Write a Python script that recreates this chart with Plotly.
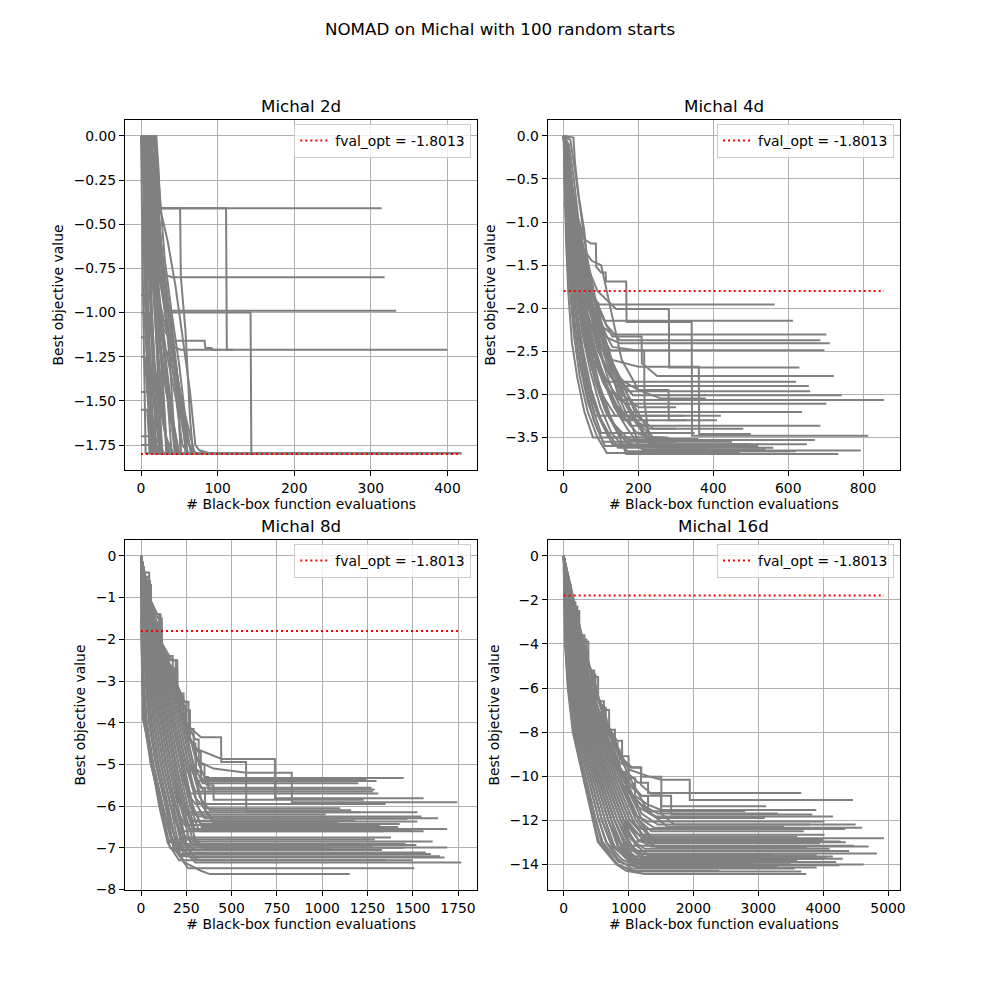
import plotly.graph_objects as go

# NOMAD best-so-far traces on the Michalewicz function
FVAL_OPT = -1.8013
SUPTITLE = "NOMAD on Michal with 100 random starts"
PANEL_TITLES = ["Michal 2d", "Michal 4d", "Michal 8d", "Michal 16d"]
X_LABEL = "# Black-box function evaluations"
Y_LABEL = "Best objective value"

X_TICKS_2D = [0, 100, 200, 300, 400]
Y_TICKS_2D = [0.0, -0.25, -0.5, -0.75, -1.0, -1.25, -1.5, -1.75]
X_TICKS_4D = [0, 200, 400, 600, 800]
Y_TICKS_4D = [0.0, -0.5, -1.0, -1.5, -2.0, -2.5, -3.0, -3.5]
X_TICKS_8D = [0, 250, 500, 750, 1000, 1250, 1500, 1750]
Y_TICKS_8D = [0, -1, -2, -3, -4, -5, -6, -7, -8]
X_TICKS_16D = [0, 1000, 2000, 3000, 4000, 5000]
Y_TICKS_16D = [0, -2, -4, -6, -8, -10, -12, -14]

# each run: (evaluation, best value so far), joined by straight segments
RUNS_2D = [
    [(0, 0), (7, 0), (12, -0.22), (18, -0.38), (24, -0.41), (314, -0.41)],
    [(0, 0), (6, 0), (13, -0.3), (22, -0.41), (111, -0.41), (112, -1.21), (400, -1.21)],
    [(0, 0), (9, 0), (16, -0.33), (27, -0.41), (51, -0.41), (52, -0.8), (58, -1.1), (64, -1.6), (68, -1.797), (230, -1.797)],
    [(0, 0), (5, 0), (14, -0.45), (22, -0.68), (28, -0.78), (40, -0.8), (318, -0.8)],
    [(0, 0), (8, 0), (17, -0.5), (26, -0.85), (34, -0.99), (333, -0.99)],
    [(0, 0), (4, 0), (15, -0.6), (30, -0.94), (40, -1.0), (143, -1.0), (144, -1.797), (418, -1.797)],
    [(0, 0), (6, 0), (14, -0.55), (25, -0.95), (36, -1.16), (83, -1.16), (84, -1.2), (92, -1.2), (93, -1.21), (120, -1.21)],
    [(0, 0), (5, 0), (12, -0.5), (20, -0.9), (30, -1.1), (45, -1.2), (52, -1.21), (105, -1.21)],
    [(0, 0), (2, 0), (4, -0.3), (7, -0.9), (10, -1.4), (13, -1.797), (120, -1.797)],
    [(0, 0), (3, 0), (6, -0.5), (9, -1.1), (12, -1.6), (16, -1.797), (175, -1.797)],
    [(0, 0), (4, 0), (8, -0.2), (11, -0.7), (15, -1.3), (20, -1.797), (210, -1.797)],
    [(0, 0), (5, -0.05), (9, -0.4), (14, -1.0), (19, -1.5), (24, -1.797), (260, -1.797)],
    [(0, 0), (6, 0), (10, -0.25), (16, -0.8), (22, -1.35), (28, -1.797), (95, -1.797)],
    [(0, 0), (8, 0), (12, -0.15), (18, -0.6), (26, -1.2), (33, -1.797), (305, -1.797)],
    [(0, 0), (10, 0), (15, -0.3), (21, -0.75), (28, -1.1), (36, -1.6), (40, -1.797), (190, -1.797)],
    [(0, 0), (12, 0), (17, -0.2), (23, -0.65), (30, -0.9), (38, -1.3), (45, -1.797), (340, -1.797)],
    [(0, 0), (15, 0), (19, -0.1), (24, -0.5), (31, -0.85), (40, -1.05), (48, -1.5), (52, -1.797), (280, -1.797)],
    [(0, 0), (17, 0), (21, -0.3), (27, -0.72), (35, -0.98), (44, -1.25), (55, -1.6), (58, -1.797), (150, -1.797)],
    [(0, 0), (18, 0), (22, -0.4), (30, -0.8), (38, -1.1), (47, -1.35), (60, -1.7), (66, -1.797), (372, -1.797)],
    [(0, 0), (19, -0.05), (24, -0.55), (33, -0.9), (42, -1.2), (52, -1.5), (63, -1.75), (72, -1.797), (230, -1.797)],
    [(0, 0), (3, -0.05), (5, -0.8), (8, -1.3), (11, -1.797), (85, -1.797)],
    [(0, -1.55), (8, -1.55), (12, -1.797), (140, -1.797)],
    [(0, -1.14), (6, -1.14), (14, -1.6), (18, -1.797), (200, -1.797)],
    [(0, -1.7), (14, -1.7), (16, -1.797), (110, -1.797)],
    [(0, -1.25), (5, -1.25), (9, -1.5), (22, -1.797), (250, -1.797)],
    [(0, -0.6), (3, -0.6), (8, -1.0), (15, -1.45), (25, -1.797), (160, -1.797)],
    [(0, -0.2), (4, -0.2), (9, -0.7), (16, -1.25), (30, -1.65), (38, -1.797), (290, -1.797)],
    [(0, 0), (7, 0), (11, -0.45), (17, -0.95), (24, -1.4), (32, -1.7), (42, -1.797), (320, -1.797)],
    [(0, 0), (9, 0), (14, -0.6), (20, -1.0), (29, -1.3), (39, -1.55), (50, -1.797), (180, -1.797)],
    [(0, 0), (11, 0), (16, -0.5), (23, -0.9), (32, -1.2), (46, -1.5), (54, -1.75), (62, -1.797), (390, -1.797)],
    [(0, 0), (13, -0.02), (18, -0.35), (26, -0.78), (36, -1.1), (46, -1.4), (57, -1.7), (68, -1.797), (410, -1.797)],
    [(0, 0), (16, 0), (20, -0.25), (26, -0.6), (34, -0.88), (43, -1.18), (50, -1.45), (61, -1.797), (260, -1.797)],
    [(0, 0), (14, 0), (18, -0.45), (25, -0.82), (33, -1.05), (44, -1.3), (56, -1.55), (70, -1.797), (418, -1.797)],
    [(0, 0), (2, -0.1), (5, -0.6), (10, -1.0), (20, -1.4), (27, -1.797), (135, -1.797)],
    [(0, 0), (4, -0.05), (7, -0.35), (13, -0.75), (24, -1.2), (35, -1.5), (46, -1.797), (240, -1.797)],
    [(0, -0.9), (4, -0.9), (12, -1.3), (28, -1.6), (36, -1.797), (350, -1.797)],
    [(0, 0), (1, -0.4), (3, -1.0), (6, -1.797), (70, -1.797)],
    [(0, 0), (20, 0), (23, -0.2), (25, -0.41), (35, -0.6), (45, -0.85), (53, -1.1), (64, -1.45), (71, -1.75), (76, -1.78), (90, -1.797), (300, -1.797)],
    [(0, -1.75), (20, -1.75), (24, -1.797), (200, -1.797)],
    [(0, -1.45), (10, -1.45), (18, -1.7), (30, -1.797), (160, -1.797)],
    [(0, 0), (6, -0.1), (11, -0.6), (19, -1.0), (30, -1.2), (46, -1.3), (52, -1.797), (100, -1.797)],
    [(0, 0), (10, -0.1), (15, -0.7), (22, -1.1), (33, -1.45), (42, -1.62), (49, -1.797), (330, -1.797)],
    [(0, 0), (3, 0), (8, -0.8), (14, -1.5), (18, -1.797), (125, -1.797)],
    [(0, 0), (8, 0), (13, -0.5), (20, -1.1), (30, -1.6), (35, -1.797), (270, -1.797)],
    [(0, 0), (12, 0), (18, -0.6), (26, -1.1), (36, -1.45), (44, -1.797), (310, -1.797)],
    [(0, 0), (5, -0.1), (10, -0.7), (18, -1.3), (26, -1.797), (145, -1.797)],
    [(0, 0), (16, -0.1), (22, -0.55), (30, -0.95), (40, -1.3), (52, -1.6), (60, -1.797), (360, -1.797)],
    [(0, 0), (10, -0.05), (15, -0.4), (21, -0.9), (28, -1.35), (34, -1.797), (220, -1.797)],
    [(0, 0), (19, 0), (24, -0.3), (31, -0.7), (40, -1.0), (50, -1.3), (58, -1.6), (65, -1.797), (380, -1.797)],
    [(0, -0.4), (2, -0.4), (6, -0.9), (11, -1.4), (15, -1.797), (105, -1.797)],
    [(0, 0), (7, -0.02), (11, -0.3), (17, -0.7), (25, -1.0), (33, -1.3), (41, -1.6), (47, -1.797), (290, -1.797)],
    [(0, -1.0), (4, -1.0), (10, -1.4), (16, -1.797), (175, -1.797)],
]

RUNS_4D = [
    [(0, 0), (6, 0), (14, -0.35), (25, -0.7), (38, -0.95), (55, -1.2), (73, -1.25), (86, -1.25), (87, -1.52), (100, -1.585), (112, -1.585), (113, -1.69), (167, -1.69), (168, -2.16), (342, -2.16), (343, -3.48), (814, -3.48)],
    [(0, 0), (4, -0.1), (12, -0.5), (24, -0.85), (40, -1.15), (62, -1.5), (90, -1.8), (120, -1.92), (140, -2.01), (281, -2.01), (282, -2.69), (630, -2.69)],
    [(0, 0), (8, -0.2), (18, -0.6), (30, -1.0), (48, -1.4), (70, -1.75), (95, -2.0), (110, -2.147), (613, -2.147)],
    [(0, 0), (3, -0.15), (10, -0.55), (22, -0.95), (35, -1.3), (55, -1.62), (75, -1.85), (95, -1.957), (564, -1.957)],
    [(0, 0), (5, -0.3), (15, -0.75), (28, -1.1), (45, -1.5), (70, -1.9), (100, -2.2), (130, -2.306), (702, -2.306)],
    [(0, 0), (9, -0.25), (20, -0.65), (35, -1.05), (55, -1.45), (80, -1.85), (115, -2.2), (150, -2.372), (686, -2.372)],
    [(0, 0), (7, -0.4), (16, -0.9), (30, -1.35), (50, -1.8), (75, -2.1), (110, -2.33), (150, -2.407), (711, -2.407)],
    [(0, 0), (6, -0.2), (14, -0.6), (26, -1.0), (42, -1.45), (65, -1.9), (90, -2.25), (125, -2.488), (697, -2.488)],
    [(0, 0), (10, -0.3), (22, -0.8), (38, -1.2), (60, -1.6), (90, -2.0), (130, -2.33), (208, -2.33), (209, -2.64), (250, -2.787), (722, -2.787)],
    [(0, 0), (4, -0.35), (11, -0.8), (22, -1.3), (38, -1.75), (60, -2.2), (85, -2.55), (115, -2.853), (621, -2.853)],
    [(0, 0), (8, -0.3), (18, -0.75), (32, -1.2), (52, -1.7), (78, -2.15), (105, -2.6), (140, -2.903), (655, -2.903)],
    [(0, 0), (5, -0.2), (12, -0.6), (24, -1.1), (42, -1.6), (64, -2.05), (92, -2.5), (125, -2.8), (170, -2.965), (659, -2.965)],
    [(0, 0), (12, -0.15), (24, -0.6), (38, -1.05), (56, -1.5), (80, -2.0), (108, -2.45), (145, -2.8), (185, -3.01), (743, -3.01)],
    [(0, 0), (3, -0.25), (9, -0.7), (20, -1.2), (35, -1.7), (55, -2.2), (80, -2.6), (110, -2.9), (150, -3.066), (856, -3.066)],
    [(0, 0), (7, -0.35), (17, -0.85), (30, -1.3), (48, -1.8), (70, -2.3), (98, -2.7), (130, -2.95), (165, -3.11), (702, -3.11)],
    [(0, 0), (6, -0.15), (15, -0.55), (28, -1.0), (45, -1.5), (68, -2.0), (95, -2.5), (125, -2.9), (158, -3.205), (637, -3.205)],
    [(0, 0), (9, -0.3), (20, -0.8), (34, -1.3), (52, -1.8), (74, -2.3), (100, -2.75), (135, -3.1), (178, -3.364), (686, -3.364)],
    [(0, 0), (4, -0.2), (10, -0.65), (20, -1.15), (34, -1.65), (52, -2.15), (74, -2.65), (100, -3.05), (135, -3.35), (175, -3.53), (671, -3.53)],
    [(0, 0), (8, -0.4), (18, -0.95), (31, -1.45), (48, -1.95), (70, -2.45), (96, -2.9), (128, -3.3), (165, -3.55), (220, -3.651), (794, -3.651)],
    [(0, 0), (5, -0.3), (13, -0.8), (25, -1.3), (40, -1.85), (60, -2.35), (85, -2.8), (115, -3.2), (150, -3.5), (167, -3.694), (734, -3.694)],
    [(0, 0), (3, -0.4), (8, -1.0), (16, -1.6), (28, -2.2), (45, -2.7), (65, -3.1), (90, -3.4), (110, -3.6), (420, -3.6)],
    [(0, 0), (6, -0.5), (14, -1.1), (25, -1.7), (40, -2.3), (60, -2.8), (80, -3.2), (100, -3.45), (350, -3.45)],
    [(0, 0), (10, -0.2), (22, -0.6), (35, -1.0), (50, -1.3), (75, -1.45), (100, -1.5), (125, -2.0), (155, -2.6), (200, -2.95), (260, -3.05), (380, -3.05)],
    [(0, 0), (14, -0.1), (27, -0.5), (40, -1.0), (58, -1.4), (80, -1.9), (105, -2.3), (135, -2.7), (170, -3.0), (210, -3.3), (250, -3.6), (520, -3.6)],
    [(0, 0), (2, -0.6), (6, -1.2), (12, -1.8), (22, -2.4), (36, -2.8), (55, -3.2), (78, -3.5), (260, -3.5)],
    [(0, 0), (11, -0.3), (24, -0.8), (40, -1.25), (60, -1.7), (85, -2.1), (115, -2.5), (150, -2.8), (195, -3.25), (240, -3.4), (480, -3.4)],
    [(0, 0), (7, -0.1), (16, -0.45), (28, -0.9), (44, -1.35), (66, -1.8), (92, -2.25), (120, -2.6), (155, -3.0), (200, -3.15), (300, -3.15)],
    [(0, -0.8), (5, -0.8), (12, -1.4), (25, -2.0), (40, -2.5), (58, -2.9), (80, -3.3), (105, -3.55), (300, -3.55)],
    [(0, 0), (18, -0.05), (30, -0.4), (45, -0.9), (62, -1.4), (85, -1.9), (110, -2.35), (140, -2.75), (175, -3.15), (215, -3.45), (255, -3.62), (560, -3.62)],
    [(0, 0), (4, -0.5), (10, -1.0), (18, -1.5), (30, -2.0), (45, -2.5), (62, -2.9), (84, -3.25), (420, -3.25)],
    [(0, 0), (9, -0.2), (19, -0.7), (33, -1.2), (50, -1.65), (72, -2.05), (96, -2.4), (128, -2.7), (160, -2.85), (200, -2.95), (280, -2.95), (281, -3.3), (330, -3.3)],
    [(0, 0), (13, -0.3), (28, -0.75), (44, -1.2), (65, -1.65), (88, -2.0), (112, -2.3), (130, -2.45), (215, -2.5), (216, -3.1), (230, -3.58), (500, -3.58)],
    [(0, 0), (26, -0.02), (30, -0.3), (40, -0.7), (55, -1.1), (64, -1.5), (78, -1.8), (95, -2.2), (118, -2.6), (145, -3.0), (175, -3.3), (200, -3.55), (450, -3.55)],
    [(0, -0.3), (3, -0.3), (8, -0.8), (16, -1.3), (28, -1.9), (44, -2.4), (64, -2.85), (88, -3.2), (120, -3.45), (145, -3.62), (390, -3.62)],
    [(0, 0), (7, -0.3), (15, -0.7), (26, -1.1), (40, -1.55), (55, -1.7), (75, -1.75), (95, -2.1), (120, -2.5), (150, -2.9), (190, -3.3), (240, -3.5), (270, -3.5)],
    [(0, 0), (5, -0.4), (13, -0.9), (24, -1.4), (40, -1.9), (60, -2.4), (84, -2.85), (112, -3.2), (145, -3.45), (185, -3.6), (430, -3.6)],
    [(0, 0), (8, -0.6), (18, -1.2), (32, -1.8), (50, -2.3), (72, -2.75), (98, -3.15), (128, -3.45), (170, -3.66), (600, -3.66)],
    [(0, 0), (3, -0.3), (9, -0.8), (19, -1.3), (33, -1.8), (52, -2.3), (75, -2.7), (102, -3.0), (138, -3.25), (320, -3.25)],
    [(0, 0), (11, -0.45), (23, -0.95), (37, -1.45), (55, -1.95), (77, -2.4), (103, -2.8), (135, -3.15), (170, -3.4), (210, -3.64), (540, -3.64)],
    [(0, 0), (6, -0.7), (15, -1.3), (28, -1.9), (45, -2.45), (66, -2.9), (92, -3.25), (120, -3.5), (280, -3.5)],
    [(0, 0), (14, -0.3), (28, -0.8), (44, -1.3), (64, -1.8), (88, -2.25), (116, -2.65), (150, -3.0), (188, -3.3), (228, -3.55), (260, -3.66), (620, -3.66)],
    [(0, 0), (2, -0.5), (7, -1.1), (15, -1.7), (27, -2.3), (43, -2.8), (64, -3.2), (90, -3.5), (115, -3.68), (470, -3.68)],
    [(0, 0), (9, -0.5), (20, -1.0), (34, -1.5), (52, -2.0), (74, -2.2), (100, -2.45), (130, -2.6), (200, -2.68), (361, -2.68), (362, -3.46), (500, -3.46)],
    [(0, 0), (4, -0.2), (12, -0.7), (24, -1.2), (40, -1.7), (60, -2.1), (86, -2.5), (116, -2.9), (150, -3.2), (196, -3.45), (240, -3.52), (360, -3.52)],
    [(0, 0), (7, -0.35), (17, -0.85), (31, -1.35), (49, -1.85), (71, -2.3), (97, -2.7), (127, -3.05), (160, -3.3), (410, -3.3)],
    [(0, 0), (12, -0.6), (24, -1.15), (38, -1.65), (56, -2.1), (78, -2.5), (104, -2.85), (134, -3.1), (168, -3.25), (230, -3.4), (300, -3.4)],
    [(0, -0.5), (4, -0.5), (10, -1.0), (20, -1.5), (34, -2.0), (52, -2.5), (74, -2.95), (100, -3.3), (130, -3.58), (650, -3.58)],
]

RUNS_8D = [
    [(0, 0), (20, -0.5), (40, -0.5), (41, -1.1), (80, -1.4), (100, -1.4), (101, -2.0), (150, -2.4), (175, -2.4), (176, -3.0), (215, -3.3), (235, -3.3), (236, -3.9), (270, -4.15), (290, -4.15), (291, -4.7), (331, -5.0), (350, -5.0), (351, -5.325), (1450, -5.325)],
    [(0, 0), (30, -0.7), (55, -0.7), (56, -1.3), (90, -1.6), (110, -1.6), (111, -2.3), (160, -2.7), (185, -2.7), (186, -3.3), (225, -3.6), (245, -3.6), (246, -4.2), (280, -4.5), (300, -4.5), (301, -5.1), (330, -5.2), (331, -5.37), (1244, -5.37)],
    [(0, 0), (44, -1), (97, -2), (171, -3), (225, -4), (276, -5), (330, -5.56), (1272, -5.56)],
    [(0, 0), (25, -0.6), (50, -0.6), (51, -1.2), (95, -1.5), (115, -1.5), (116, -2.1), (170, -2.5), (200, -2.5), (201, -3.1), (240, -3.5), (262, -3.5), (263, -4.1), (300, -4.4), (318, -4.4), (319, -5.0), (350, -5.3), (370, -5.3), (371, -5.6), (1290, -5.6)],
    [(0, 0), (39, -1), (85, -2), (151, -3), (199, -4), (248, -5), (300, -5.65), (1281, -5.65)],
    [(0, 0), (47, -1), (102, -2), (180, -3), (237, -4), (290, -4.6), (445, -4.87), (739, -4.87), (740, -5.81), (1560, -5.81)],
    [(0, 0), (50, -1), (108, -2), (192, -3), (250, -4), (303, -4.9), (400, -5.1), (580, -5.2), (832, -5.2), (833, -5.91), (1746, -5.91)],
    [(0, 0), (44, -1), (97, -2), (171, -3), (240, -4), (331, -4.35), (442, -4.35), (443, -4.94), (580, -4.94), (581, -6.15), (1526, -6.15)],
    [(0, 0), (33, -1), (73, -2), (130, -3), (174, -4), (221, -5), (272, -6), (310, -6.25), (1548, -6.25)],
    [(0, 0), (41, -1), (91, -2), (161, -3), (212, -4), (262, -5), (312, -6), (350, -6.29), (1640, -6.29)],
    [(0, 0), (28, -1), (62, -2), (109, -3), (148, -4), (193, -5), (245, -6), (290, -6.37), (1526, -6.37)],
    [(0, 0), (36, -1), (79, -2), (140, -3), (186, -4), (234, -5), (285, -6), (330, -6.43), (1428, -6.43)],
    [(0, 0), (23, -1), (50, -2), (89, -3), (122, -4), (166, -5), (218, -6), (265, -6.55), (1690, -6.55)],
    [(0, 0), (31, -1), (68, -2), (120, -3), (161, -4), (207, -5), (258, -6), (300, -6.59), (1505, -6.59)],
    [(0, 0), (17, -1), (38, -2), (68, -3), (97, -4), (138, -5), (191, -6), (240, -6.7), (290, -6.93), (1520, -6.93)],
    [(0, 0), (26, -1), (56, -2), (99, -3), (135, -4), (180, -5), (232, -6), (285, -6.8), (330, -6.99), (1690, -6.99)],
    [(0, 0), (12, -1), (26, -2), (47, -3), (71, -4), (110, -5), (164, -6), (210, -7), (250, -7.11), (1572, -7.11)],
    [(0, 0), (20, -1), (44, -2), (78, -3), (110, -4), (152, -5), (205, -6), (255, -7), (300, -7.23), (1676, -7.23)],
    [(0, 0), (15, -1), (32, -2), (57, -3), (84, -4), (124, -5), (178, -6), (225, -7), (300, -7.35), (1768, -7.35)],
    [(0, 0), (6, -1), (15, -2), (27, -3), (46, -4), (83, -5), (137, -6), (180, -7), (260, -7.49), (1509, -7.49)],
    [(0, 0), (9, -1), (20, -2), (37, -3), (58, -4), (96, -5), (150, -6), (195, -7), (240, -7.35), (330, -7.55), (380, -7.63), (1152, -7.63)],
    [(0, 0), (17, -1), (38, -2), (68, -3), (97, -4), (138, -5), (191, -6), (240, -6.45), (1320, -6.45)],
    [(0, 0), (3, -1), (9, -2), (16, -3), (33, -4), (69, -5), (123, -6), (165, -6.8), (210, -7.05), (1250, -7.05)],
    [(0, 0), (47, -1), (102, -2), (180, -3), (237, -4), (290, -5), (340, -5.45), (1200, -5.45)],
    [(0, 0), (12, -1), (26, -2), (47, -3), (71, -4), (110, -5), (164, -6), (220, -6.75), (1380, -6.75)],
    [(0, 0), (39, -1), (85, -2), (151, -3), (199, -4), (248, -5), (299, -5.8), (350, -6.05), (1100, -6.05)],
    [(0, -0.5), (1, -1), (3, -2), (6, -3), (20, -4), (55, -5), (110, -6), (150, -6.8), (200, -7.0), (1050, -7.0)],
    [(0, 0), (26, -1), (56, -2), (99, -3), (135, -4), (180, -5), (232, -6), (280, -6.35), (1180, -6.35)],
    [(0, 0), (35, -0.8), (52, -0.8), (53, -1.4), (100, -1.7), (114, -1.7), (115, -2.4), (180, -2.7), (200, -2.7), (201, -3.3), (250, -3.7), (270, -3.7), (271, -4.4), (318, -4.7), (330, -4.7), (331, -5.3), (365, -5.5), (400, -5.5), (401, -5.85), (1230, -5.85)],
    [(0, 0), (6, -1), (15, -2), (27, -3), (46, -4), (83, -5), (137, -6), (190, -6.8), (1290, -6.8)],
    [(0, 0), (33, -1), (73, -2), (130, -3), (174, -4), (221, -5), (272, -6), (320, -6.6), (1340, -6.6)],
    [(0, 0), (20, -1), (44, -2), (78, -3), (110, -4), (152, -5), (205, -5.9), (250, -6.2), (1020, -6.2)],
    [(0, 0), (41, -1), (91, -2), (161, -3), (212, -4), (262, -5), (310, -5.4), (1300, -5.4)],
    [(0, -1.5), (3, -2), (9, -3), (30, -4), (65, -5), (118, -6), (160, -6.7), (200, -6.95), (1280, -6.95)],
    [(0, 0), (28, -1), (62, -2), (109, -3), (148, -4), (193, -5), (245, -6), (290, -6.55), (1240, -6.55)],
    [(0, 0), (36, -1), (79, -2), (140, -3), (186, -4), (234, -5), (285, -6), (335, -6.5), (1420, -6.5)],
    [(0, 0), (9, -1), (20, -2), (37, -3), (58, -4), (96, -5), (150, -6), (195, -6.9), (240, -7.15), (1600, -7.15)],
    [(0, 0), (31, -1), (68, -2), (120, -3), (161, -4), (207, -5), (258, -5.7), (300, -5.95), (1350, -5.95)],
    [(0, 0), (15, -1), (32, -2), (57, -3), (84, -4), (124, -5), (178, -6), (230, -6.9), (1460, -6.9)],
    [(0, 0), (1, -1), (3, -2), (6, -3), (18, -4), (55, -5), (110, -6), (160, -7), (220, -7.15), (1380, -7.15)],
    [(0, 0), (44, -1), (97, -2), (171, -3), (225, -4), (276, -5), (326, -5.8), (380, -6.1), (1160, -6.1)],
    [(0, 0), (23, -1), (50, -2), (89, -3), (122, -4), (166, -5), (218, -6), (270, -6.85), (1610, -6.85)],
    [(0, 0), (47, -1), (102, -2), (180, -3), (237, -4), (290, -5), (340, -6), (390, -6.3), (1470, -6.3)],
    [(0, 0), (17, -1), (38, -2), (68, -3), (97, -4), (138, -5), (191, -6), (240, -6.9), (300, -7.05), (1330, -7.05)],
    [(0, 0), (23, -1), (50, -2), (89, -3), (122, -4), (166, -5), (218, -5.9), (260, -6.15), (1210, -6.15)],
    [(0, 0), (12, -1), (26, -2), (47, -3), (71, -4), (110, -5), (164, -6), (215, -6.6), (1560, -6.6)],
    [(0, 0), (20, -0.4), (45, -0.4), (46, -1.0), (90, -1.4), (108, -1.4), (109, -2.1), (160, -2.5), (192, -2.5), (193, -3.1), (230, -3.5), (250, -3.5), (251, -4.2), (290, -4.6), (303, -4.6), (304, -5.3), (340, -5.6), (353, -5.6), (354, -6.1), (400, -6.4), (1090, -6.4)],
    [(0, 0), (6, -1), (15, -2), (27, -3), (46, -4), (83, -5), (137, -6), (180, -7), (230, -7.2), (1650, -7.2)],
    [(0, 0), (33, -1), (73, -2), (130, -3), (174, -4), (221, -5), (270, -5.7), (1310, -5.7)],
    [(0, 0), (28, -1), (62, -2), (109, -3), (148, -4), (193, -5), (245, -6), (300, -6.8), (350, -7.0), (1450, -7.0)],
    [(0, -3.3), (9, -3.3), (10, -3.9), (40, -4.5), (70, -5.2), (110, -6.0), (150, -6.9), (210, -7.3), (1350, -7.3)],
    [(0, 0), (1, -1), (4, -2), (8, -3), (25, -4), (60, -5), (100, -6), (147, -6.86), (212, -6.86), (213, -7.14), (330, -7.3), (1500, -7.3)],
]

RUNS_16D = [
    [(0, 0), (30, -0.9), (60, -0.9), (61, -1.7), (150, -2.1), (180, -2.1), (181, -3.0), (270, -3.6), (320, -3.6), (321, -4.5), (420, -5.2), (470, -5.2), (471, -6.1), (560, -6.6), (620, -6.6), (621, -7.4), (720, -7.9), (790, -7.9), (791, -8.7), (900, -9.1), (1000, -9.1), (1001, -9.9), (1150, -10.3), (1300, -10.3), (1301, -10.77), (3663, -10.77)],
    [(0, 0), (160, -2), (310, -4), (490, -6), (720, -8), (1000, -9.7), (1300, -10.0), (1505, -10.16), (1943, -10.16), (1944, -11.08), (4460, -11.08)],
    [(0, 0), (150, -2), (300, -4), (470, -6), (690, -8), (900, -9.3), (1041, -9.62), (1196, -9.62), (1197, -10.03), (1505, -10.03), (1506, -11.37), (3122, -11.37)],
    [(0, 0), (45, -1.3), (100, -1.5), (101, -2.2), (170, -2.6), (230, -2.6), (231, -3.7), (320, -4.3), (360, -4.3), (361, -5.4), (450, -5.9), (500, -5.9), (501, -6.9), (600, -7.4), (660, -7.4), (661, -8.3), (760, -8.8), (860, -8.8), (861, -9.6), (980, -10.1), (1100, -10.1), (1101, -10.9), (1300, -11.3), (1500, -11.54), (3894, -11.54)],
    [(0, 0), (140, -2), (275, -4), (430, -6), (640, -8), (920, -10), (1200, -10.89), (1656, -10.89), (1657, -11.74), (3832, -11.74)],
    [(0, 0), (133, -2), (260, -4), (412, -6), (614, -8), (892, -10), (1150, -11.4), (1400, -11.84), (4151, -11.84)],
    [(0, 0), (117, -2), (230, -4), (369, -6), (554, -8), (817, -10), (1114, -11.8), (1300, -12.06), (4022, -12.06)],
    [(0, 0), (101, -2), (200, -4), (325, -6), (495, -8), (742, -10), (1019, -12), (1200, -12.4), (4342, -12.4)],
    [(0, 0), (85, -2), (170, -4), (281, -6), (436, -8), (668, -10), (924, -12), (1150, -12.66), (4022, -12.66)],
    [(0, 0), (93, -2), (185, -4), (303, -6), (466, -8), (705, -10), (972, -12), (1200, -12.82), (4938, -12.82)],
    [(0, 0), (77, -2), (155, -4), (259, -6), (407, -8), (630, -10), (877, -12), (1100, -12.97), (4270, -12.97)],
    [(0, 0), (69, -2), (140, -4), (237, -6), (377, -8), (593, -10), (829, -12), (1050, -13.16), (4475, -13.16)],
    [(0, 0), (61, -2), (125, -4), (215, -6), (348, -8), (555, -10), (782, -12), (950, -13), (1200, -13.51), (4830, -13.51)],
    [(0, 0), (53, -2), (110, -4), (193, -6), (318, -8), (518, -10), (734, -12), (900, -13.2), (1100, -13.76), (4012, -13.76)],
    [(0, 0), (37, -2), (80, -4), (150, -6), (258, -8), (443, -10), (638, -12), (780, -13.2), (1000, -13.8), (1300, -14.01), (4625, -14.01)],
    [(0, 0), (21, -2), (50, -4), (106, -6), (199, -8), (369, -10), (543, -12), (650, -13), (850, -13.8), (1050, -14.2), (3560, -14.2)],
    [(0, 0), (13, -2), (35, -4), (84, -6), (170, -8), (330, -10), (495, -12), (580, -13), (820, -14), (1100, -14.33), (3663, -14.33)],
    [(0, 0), (5, -2), (20, -4), (62, -6), (140, -8), (294, -10), (448, -12), (526, -13), (809, -14), (964, -14.3), (1247, -14.45), (3740, -14.45)],
    [(0, 0), (109, -2), (215, -4), (347, -6), (525, -8), (780, -10), (1066, -12), (1300, -13.05), (3950, -13.05)],
    [(0, 0), (45, -2), (95, -4), (172, -6), (288, -8), (480, -10), (686, -12), (850, -13), (1050, -13.4), (4400, -13.4)],
    [(0, 0), (125, -2), (245, -4), (390, -6), (584, -8), (855, -10), (1160, -12), (1350, -12.5), (3700, -12.5)],
    [(0, 0), (29, -2), (65, -4), (128, -6), (228, -8), (406, -10), (590, -12), (720, -13), (950, -13.7), (1150, -13.9), (4200, -13.9)],
    [(0, 0), (157, -2), (305, -4), (478, -6), (702, -8), (1004, -10), (1300, -11.6), (1600, -12.3), (3400, -12.3)],
    [(0, 0), (77, -2), (155, -4), (259, -6), (407, -8), (630, -10), (877, -12), (1050, -12.9), (1250, -13.3), (4100, -13.3)],
    [(0, 0), (85, -2), (170, -4), (281, -6), (436, -8), (668, -10), (924, -12), (1100, -13.1), (1300, -13.6), (3900, -13.6)],
    [(0, 0), (21, -2), (50, -4), (106, -6), (199, -8), (369, -10), (543, -12), (660, -13), (900, -13.8), (1150, -14.1), (3300, -14.1)],
    [(0, 0), (50, -1.1), (110, -1.3), (111, -2.0), (190, -2.5), (240, -2.5), (241, -3.4), (330, -3.9), (380, -3.9), (381, -4.9), (470, -5.5), (530, -5.5), (531, -6.5), (640, -7.0), (700, -7.0), (701, -7.8), (820, -8.4), (900, -8.4), (901, -9.2), (1050, -9.6), (1190, -9.6), (1191, -10.4), (1350, -10.8), (1500, -10.8), (1501, -11.7), (1700, -12.2), (3800, -12.2)],
    [(0, 0), (61, -2), (125, -4), (215, -6), (348, -8), (555, -10), (782, -12), (950, -13.1), (1200, -13.7), (4050, -13.7)],
    [(0, 0), (37, -2), (80, -4), (150, -6), (258, -8), (443, -10), (638, -12), (780, -13.2), (1050, -14.0), (3500, -14.0)],
    [(0, 0), (101, -2), (200, -4), (325, -6), (495, -8), (742, -10), (1019, -12), (1250, -12.75), (3600, -12.75)],
    [(0, 0), (53, -2), (110, -4), (193, -6), (318, -8), (518, -10), (734, -12), (920, -13.3), (1150, -13.75), (4300, -13.75)],
    [(0, 0), (141, -2), (275, -4), (434, -6), (644, -8), (929, -10), (1200, -11.7), (1450, -12.2), (4500, -12.2)],
    [(0, 0), (45, -2), (95, -4), (172, -6), (288, -8), (480, -10), (686, -12), (850, -13.2), (1080, -13.85), (3050, -13.85)],
    [(0, 0), (117, -2), (230, -4), (369, -6), (554, -8), (817, -10), (1114, -12), (1350, -12.9), (3350, -12.9)],
    [(0, 0), (29, -2), (65, -4), (128, -6), (228, -8), (406, -10), (590, -12), (750, -13.2), (950, -13.65), (4150, -13.65)],
    [(0, 0), (35, -0.7), (80, -1.0), (81, -1.8), (160, -2.3), (210, -2.3), (211, -3.2), (300, -3.8), (350, -3.8), (351, -4.8), (440, -5.4), (490, -5.4), (491, -6.3), (590, -6.9), (650, -6.9), (651, -7.9), (760, -8.5), (830, -8.5), (831, -9.3), (940, -9.52), (1000, -9.52), (1001, -10.4), (1200, -10.9), (1300, -10.9), (1301, -11.6), (2800, -11.6)],
    [(0, 0), (69, -2), (140, -4), (237, -6), (377, -8), (593, -10), (829, -12), (1000, -13.1), (1200, -13.55), (3200, -13.55)],
    [(0, 0), (133, -2), (260, -4), (412, -6), (614, -8), (892, -10), (1210, -12), (1400, -12.35), (4600, -12.35)],
    [(0, -0.5), (10, -2), (35, -4), (84, -6), (170, -8), (330, -10), (495, -12), (600, -13), (850, -13.9), (1150, -14.15), (3900, -14.15)],
    [(0, 0), (93, -2), (185, -4), (303, -6), (466, -8), (705, -10), (972, -12), (1150, -12.9), (1350, -13.2), (4700, -13.2)],
    [(0, 0), (25, -1.0), (90, -1.4), (91, -2.3), (180, -2.8), (220, -2.8), (221, -3.8), (300, -4.2), (340, -4.2), (341, -5.3), (430, -5.8), (480, -5.8), (481, -6.7), (570, -7.2), (630, -7.2), (631, -8.1), (720, -8.5), (800, -8.5), (801, -9.5), (900, -9.9), (1000, -9.9), (1001, -10.7), (1250, -11.5), (1450, -11.9), (3100, -11.9)],
    [(0, 0), (53, -2), (110, -4), (193, -6), (318, -8), (518, -10), (734, -12), (900, -13.3), (1150, -13.95), (2900, -13.95)],
    [(0, 0), (109, -2), (215, -4), (347, -6), (525, -8), (780, -10), (1066, -12), (1250, -12.9), (1450, -13.25), (3750, -13.25)],
    [(0, 0), (29, -2), (65, -4), (128, -6), (228, -8), (406, -10), (590, -12), (720, -13), (1000, -13.8), (1250, -14.05), (4250, -14.05)],
    [(0, 0), (45, -2), (95, -4), (172, -6), (288, -8), (480, -10), (686, -12), (830, -13.2), (1050, -13.9), (1250, -14.1), (2600, -14.1)],
    [(0, 0), (85, -2), (170, -4), (281, -6), (436, -8), (668, -10), (924, -12), (1150, -12.9), (4000, -12.9)],
    [(0, 0), (61, -2), (125, -4), (215, -6), (348, -8), (555, -10), (782, -12), (960, -13.3), (1200, -13.9), (3450, -13.9)],
    [(0, 0), (125, -2), (245, -4), (390, -6), (584, -8), (855, -10), (1160, -12), (1400, -13.0), (4350, -13.0)],
    [(0, 0), (8, -2), (25, -4), (70, -6), (150, -8), (305, -10), (460, -12), (545, -13), (830, -14), (1050, -14.3), (2400, -14.3)],
    [(0, 0), (40, -1.2), (90, -1.2), (91, -2.1), (160, -2.5), (200, -2.5), (201, -3.5), (280, -4.1), (330, -4.1), (331, -5.1), (420, -5.7), (460, -5.7), (461, -6.6), (560, -7.1), (610, -7.1), (611, -8.0), (700, -8.5), (760, -8.5), (761, -9.4), (880, -9.8), (960, -9.8), (961, -10.6), (1200, -11.3), (1450, -11.7), (3300, -11.7)],
    [(0, 0), (77, -2), (155, -4), (259, -6), (407, -8), (630, -10), (877, -12), (1050, -13.2), (1300, -13.85), (3600, -13.85)],
]

panels = [
    (RUNS_2D, X_TICKS_2D, Y_TICKS_2D, ".2f"),
    (RUNS_4D, X_TICKS_4D, Y_TICKS_4D, ".1f"),
    (RUNS_8D, X_TICKS_8D, Y_TICKS_8D, "d"),
    (RUNS_16D, X_TICKS_16D, Y_TICKS_16D, "d"),
]

# matplotlib 2x2 default axes boxes on a 1000x1000 figure
x_domains = [[0.125, 0.4773], [0.5477, 0.9], [0.125, 0.4773], [0.5477, 0.9]]
y_domains = [[0.53, 0.88], [0.53, 0.88], [0.11, 0.46], [0.11, 0.46]]

FONT = "DejaVu Sans"
GREY = "#808080"

fig = go.Figure()
layout = dict(
    width=1000, height=1000,
    margin=dict(l=0, r=0, t=0, b=0, autoexpand=False),
    paper_bgcolor="white", plot_bgcolor="white",
    font=dict(family=FONT, size=13.9, color="black"),
    showlegend=True,
)
annotations = [dict(text=SUPTITLE, x=0.5, y=0.983, xref="paper", yref="paper",
                    xanchor="center", yanchor="top", showarrow=False,
                    font=dict(family=FONT, size=16.7, color="black"))]

for i, (runs, xt, yt, yfmt) in enumerate(panels):
    n = i + 1
    xa = "x" if n == 1 else f"x{n}"
    ya = "y" if n == 1 else f"y{n}"
    leg = "legend" if n == 1 else f"legend{n}"

    xmax = max(r[-1][0] for r in runs)
    ymin = min(min(p[1] for p in r) for r in runs + [[(0, FVAL_OPT)]])
    ymax = max(max(p[1] for p in r) for r in runs + [[(0, FVAL_OPT)]])

    for r in runs:
        xs, ys = zip(*r)
        fig.add_trace(go.Scatter(
            x=xs, y=ys, mode="lines", line=dict(color=GREY, width=2),
            xaxis=xa, yaxis=ya, showlegend=False, hoverinfo="skip"))

    fig.add_trace(go.Scatter(
        x=[0, xmax], y=[FVAL_OPT, FVAL_OPT], mode="lines",
        line=dict(color="red", width=2, dash="2px,3px"),
        name=f"fval_opt = {FVAL_OPT}", xaxis=xa, yaxis=ya, legend=leg))

    xpad = 0.05 * xmax
    ypad = 0.05 * (ymax - ymin)
    axis_common = dict(
        showline=True, mirror=True, linecolor="black", linewidth=1,
        ticks="outside", ticklen=5, tickwidth=1, tickcolor="black",
        showgrid=True, gridcolor="#b0b0b0", gridwidth=1.1, zeroline=False,
        automargin=False,
        tickfont=dict(family=FONT, size=13.9, color="black"),
    )
    layout["xaxis" if n == 1 else f"xaxis{n}"] = dict(
        axis_common, domain=x_domains[i], anchor=ya, range=[-xpad, xmax + xpad],
        tickvals=xt, title=dict(text=X_LABEL, standoff=3, font=dict(family=FONT, size=13.9)))
    layout["yaxis" if n == 1 else f"yaxis{n}"] = dict(
        axis_common, domain=y_domains[i], anchor=xa, range=[ymin - ypad, ymax + ypad],
        tickvals=yt, tickformat=yfmt,
        title=dict(text=Y_LABEL, standoff=6, font=dict(family=FONT, size=13.9)))

    layout[leg] = dict(
        x=x_domains[i][1] - 0.006, y=y_domains[i][1] - 0.004,
        xanchor="right", yanchor="top",
        bgcolor="rgba(255,255,255,0.8)", bordercolor="#cccccc", borderwidth=1,
        font=dict(family=FONT, size=13.9, color="black"))

    annotations.append(dict(
        text=PANEL_TITLES[i], x=sum(x_domains[i]) / 2, y=y_domains[i][1] + 0.002,
        xref="paper", yref="paper", xanchor="center", yanchor="bottom", showarrow=False,
        font=dict(family=FONT, size=16.7, color="black")))

layout["annotations"] = annotations
fig.update_layout(**layout)

# drop the default page margin so the figure sits at the window's top-left corner
fig.write_html("out.html", config={"displayModeBar": False},
               post_script="document.body.style.margin='0px';")
